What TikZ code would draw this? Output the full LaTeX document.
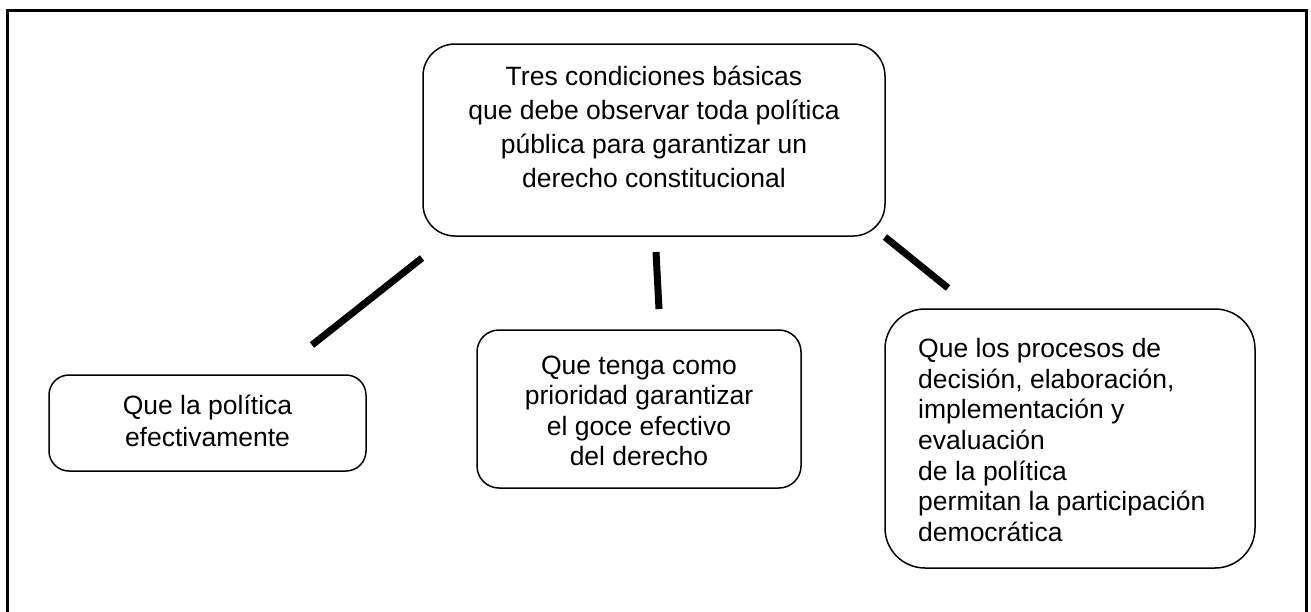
\documentclass[tikz,border=0pt]{standalone}
\usepackage{fontspec}
\setmainfont{Liberation Sans}
\begin{document}
\begin{tikzpicture}[x=1pt,y=-1pt,
  box/.style={draw=black, line width=1.5pt, fill=white, inner sep=0pt},
  txt/.style={inner sep=0pt, font=\fontsize{26.5}{34}\selectfont},
  conn/.style={line width=7pt}]
\useasboundingbox (0,0) rectangle (1311,611);
% outer frame
\draw[line width=3pt] (7,640) -- (7,10.5) -- (1306,10.5) -- (1306,640);
% boxes
\node[box, rounded corners=32pt, minimum width=462pt, minimum height=192pt] (top) at (654,140) {};
\node[txt, align=center] (toptxt) at (654,127) {Tres condiciones básicas\\que debe observar toda política\\pública para garantizar un\\derecho constitucional};
\node[box, rounded corners=20pt, minimum width=317pt, minimum height=96pt] (left) at (207.5,423) {};
\node[txt, align=center, font=\fontsize{26.5}{32}\selectfont] (lefttxt) at (207.5,421) {Que la política\\efectivamente};
\node[box, rounded corners=22pt, minimum width=324pt, minimum height=158pt] (mid) at (639,409) {};
\node[txt, align=center, font=\fontsize{26.5}{30.5}\selectfont] (midtxt) at (639,411) {Que tenga como\\prioridad garantizar\\el goce efectivo\\del derecho};
\node[box, rounded corners=40pt, minimum width=370pt, minimum height=259pt] (right) at (1070,438.5) {};
\node[txt, align=left, anchor=west, font=\fontsize{26.5}{30.7}\selectfont] (righttxt) at (918,440) {Que los procesos de\\decisión, elaboración,\\implementación y\\evaluación\\de la política\\permitan la participación\\democrática};
% connectors
\coordinate (l1) at (422,258); \coordinate (l2) at (312,345);
\coordinate (m1) at (656,252); \coordinate (m2) at (659,309);
\coordinate (r1) at (885,237); \coordinate (r2) at (948,288);
\draw[conn] (l1) -- (l2);
\draw[conn] (m1) -- (m2);
\draw[conn] (r1) -- (r2);
\end{tikzpicture}
\end{document}
